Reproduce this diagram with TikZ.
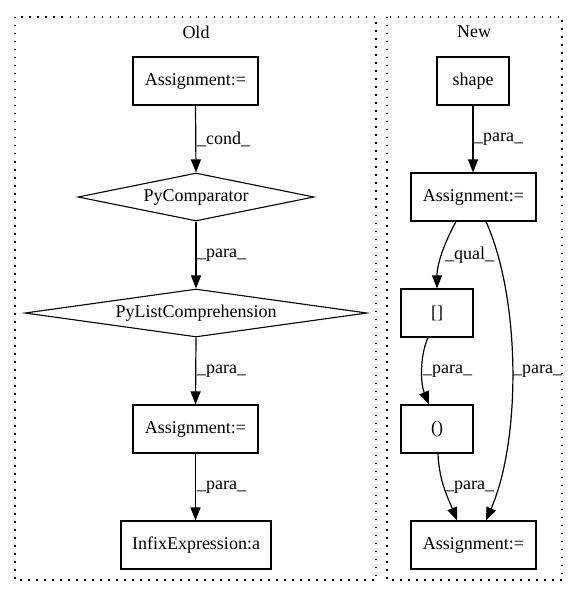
\documentclass[tikz,border=0pt]{standalone}
\usepackage{fontspec}
\setmainfont{Liberation Serif}
\usetikzlibrary{arrows.meta,shapes.geometric,calc}
\begin{document}
\begin{tikzpicture}[x=1pt,y=-1pt,
  every node/.style={font=\fontsize{18}{20}\selectfont},
  box/.style={draw,line width=1.1pt,rectangle,inner sep=0,minimum height=48},
  dia/.style={draw,line width=1.1pt,diamond,inner sep=0,minimum height=48},
  txt/.style={inner sep=0},
  lab/.style={inner sep=0,anchor=west},
  edge/.style={line width=1.2pt,-{Triangle[length=13pt,width=10pt]}},
  cluster/.style={line width=1.2pt,dash pattern=on 1.5pt off 6.5pt}]
\useasboundingbox (0,0) rectangle (577,596);
% clusters
\draw[cluster] (15,17) rectangle (376,580);
\draw[cluster] (387,17) rectangle (562,580);
\node[txt] (oldt) at (196,32) {Old};
\node[txt] (newt) at (474,32) {New};
% Old nodes
\node[box,minimum width=125] (oa1) at (195.5,81) {Assignment:=};
\node[dia,minimum width=236] (pc) at (196,197) {};
\node[txt] (pct) at (pc) {PyComparator};
\node[dia,minimum width=342] (plc) at (196,313) {};
\node[txt] (plct) at (plc) {PyListComprehension};
\node[box,minimum width=125] (oa2) at (195.5,429) {Assignment:=};
\node[box,minimum width=150] (inf) at (196,545) {InfixExpression:a};
% Old edges
\draw[edge] (oa1.south) -- (pc.north);
\draw[edge] (pc.south) -- (plc.north);
\draw[edge] (plc.south) -- (oa2.south |- oa2.north);
\draw[edge] (oa2.south) -- (oa2.south |- inf.north);
\node[lab] (l1) at (197,139) {\_cond\_};
\node[lab] (l2) at (197,255) {\_para\_};
\node[lab] (l3) at (197,371) {\_para\_};
\node[lab] (l4) at (197,487) {\_para\_};
% New nodes
\node[box,minimum width=72] (sh) at (473,81) {shape};
\node[box,minimum width=125] (na) at (473.5,197) {Assignment:=};
\node[box,minimum width=72] (br) at (437,313) {[]};
\node[box,minimum width=72] (pa) at (437,429) {()};
\node[box,minimum width=125] (nb) at (473.5,545) {Assignment:=};
% New edges
\draw[edge] (sh.south) -- (sh.south |- na.north);
\draw[edge] ($(na.south)+(-17.5,0)$) .. controls (446,240) and (437,262) .. (br.north);
\draw[edge] ($(na.south)+(12.5,0)$) .. controls (521,300) and (521,440) .. ($(nb.north)+(12.5,0)$);
\draw[edge] ($(br.south)+(-9,0)$) .. controls (419,358) and (421,385) .. ($(pa.north)+(-8,0)$);
\draw[edge] ($(pa.south)+(1,0)$) .. controls (439,482) and (449,500) .. ($(nb.north)+(-16.5,0)$);
\node[lab] (l5) at (474,139) {\_para\_};
\node[lab] (l6) at (445,255) {\_qual\_};
\node[lab] (l7) at (423,371) {\_para\_};
\node[lab] (l8) at (513,371) {\_para\_};
\node[lab] (l9) at (445,487) {\_para\_};
\end{tikzpicture}
\end{document}
